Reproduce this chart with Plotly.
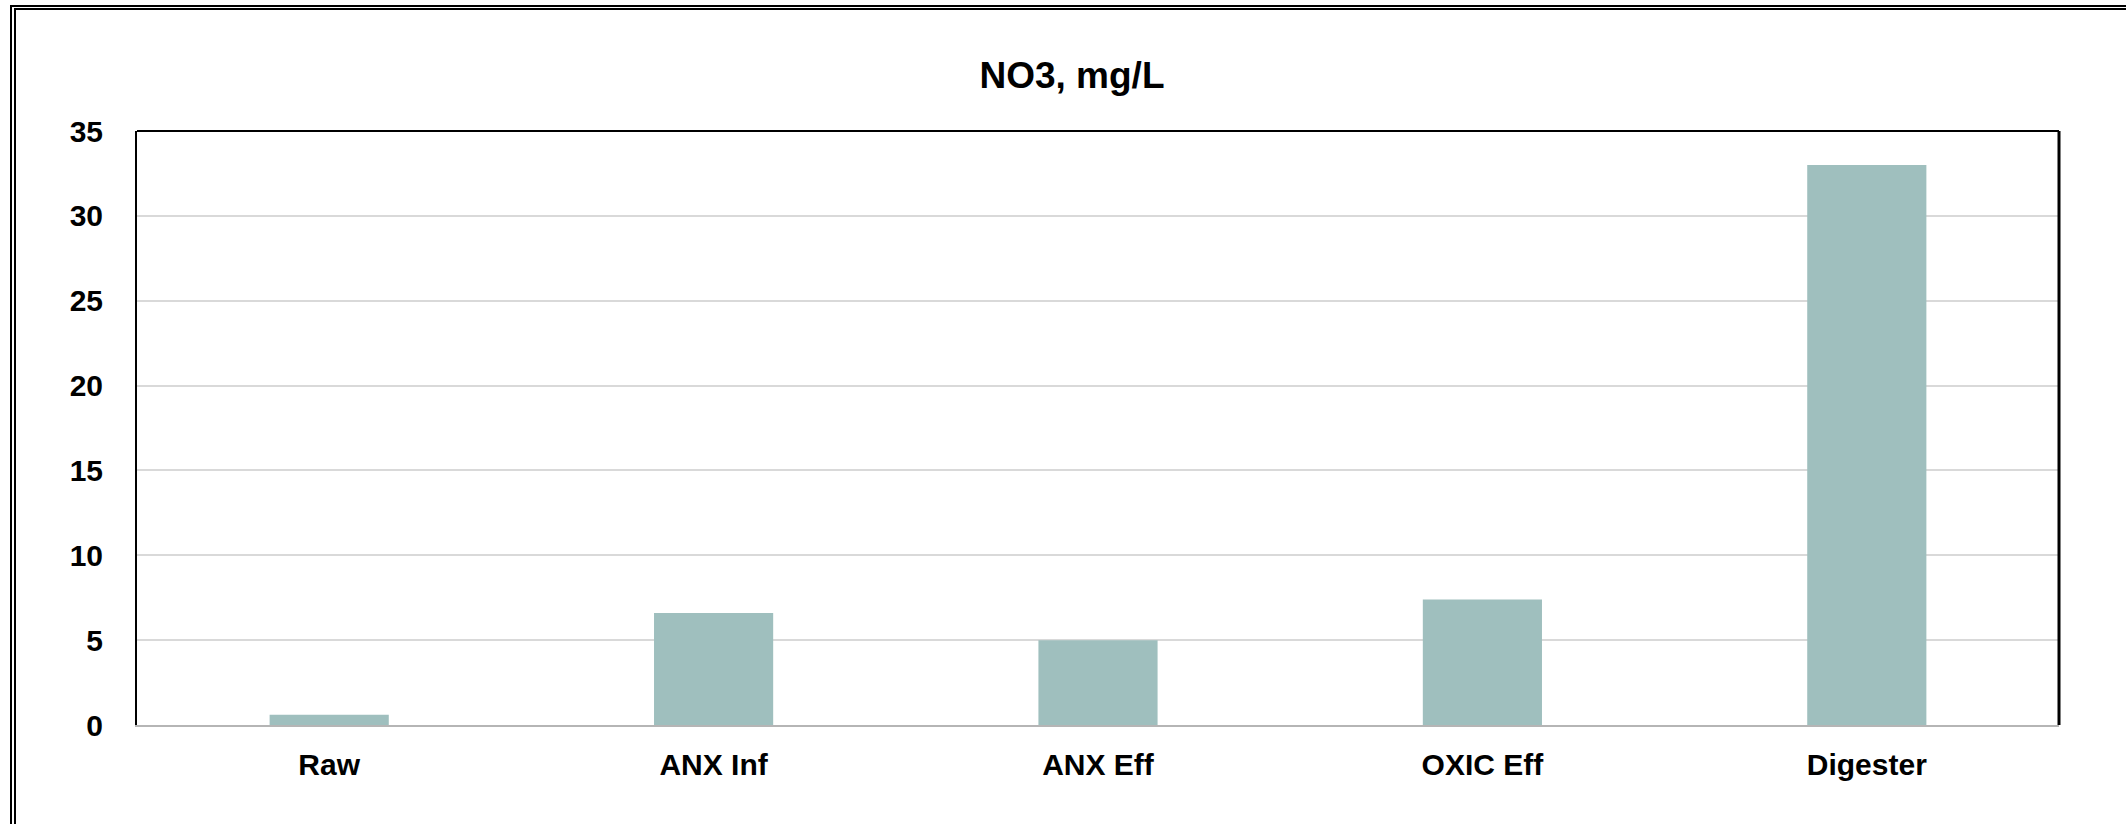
import plotly.graph_objects as go

# Sample points and measured nitrate concentrations
categories = ["Raw", "ANX Inf", "ANX Eff", "OXIC Eff", "Digester"]
no3_mg_l = [0.6, 6.6, 5.0, 7.4, 33.0]
y_ticks = [0, 5, 10, 15, 20, 25, 30, 35]

W, H = 2126, 824
L, R, T, B = 137, 2059, 131, 725  # plot area in pixels

def px_x(x):
    return (x - L) / (R - L)

def px_y(y):
    return (B - y) / (B - T)

FONT = "Liberation Sans, Arial, sans-serif"

fig = go.Figure(
    go.Bar(
        x=categories,
        y=no3_mg_l,
        width=0.31,
        marker=dict(color="#9FBFBE", line=dict(width=0)),
        hoverinfo="x+y",
    )
)

shapes = [
    # plot-area top and right edges
    dict(type="line", xref="paper", yref="paper", x0=0, x1=1, y0=1, y1=1,
         line=dict(color="#000000", width=2)),
    dict(type="line", xref="paper", yref="paper", x0=1, x1=1, y0=0, y1=1,
         line=dict(color="#000000", width=3)),
    # double outer frame (only its top and left edges fall inside the page)
    dict(type="rect", xref="paper", yref="paper",
         x0=px_x(11), x1=px_x(2150), y0=px_y(6), y1=px_y(840),
         line=dict(color="#000000", width=2)),
    dict(type="rect", xref="paper", yref="paper",
         x0=px_x(15), x1=px_x(2150), y0=px_y(9), y1=px_y(840),
         line=dict(color="#000000", width=2)),
]

fig.update_layout(
    width=W,
    height=H,
    margin=dict(l=L, r=W - R, t=T, b=H - B),
    paper_bgcolor="#FFFFFF",
    plot_bgcolor="#FFFFFF",
    showlegend=False,
    title=dict(
        text="NO3, mg/L",
        x=1072 / W,
        xref="container",
        xanchor="center",
        y=1 - 75 / H,
        yref="container",
        yanchor="middle",
        font=dict(family=FONT, size=37, color="#000000", weight="bold"),
    ),
    xaxis=dict(
        showgrid=False,
        showline=True,
        linecolor="#B5B5B5",
        linewidth=2,
        ticks="",
        ticklabelstandoff=12,
        tickfont=dict(family=FONT, size=30, color="#000000", weight="bold"),
    ),
    yaxis=dict(
        range=[0, 35],
        tickvals=y_ticks,
        showgrid=True,
        gridcolor="#D9D9D9",
        gridwidth=2,
        zeroline=False,
        showline=True,
        linecolor="#000000",
        linewidth=2,
        ticks="",
        ticklabelstandoff=26,
        tickfont=dict(family=FONT, size=30, color="#000000", weight="bold"),
    ),
    shapes=shapes,
    bargap=0.69,
)

fig.write_html("out.html")
